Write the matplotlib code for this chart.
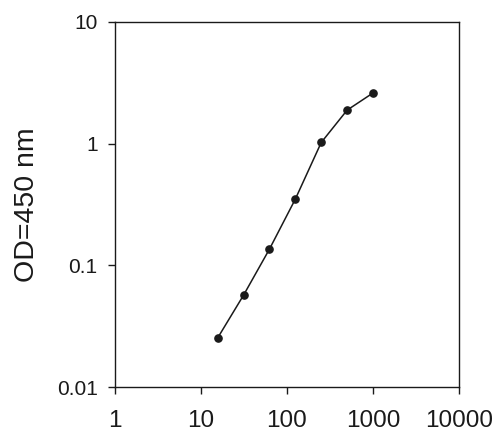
import matplotlib
matplotlib.use('Agg')
import matplotlib.pyplot as plt
from matplotlib.ticker import FixedLocator, FixedFormatter, NullLocator

# concentration (x) vs OD at 450 nm (y)
conc = [15.625, 31.25, 62.5, 125, 250, 500, 1000]
od = [0.0254, 0.057, 0.136, 0.35, 1.02, 1.88, 2.6]

x_ticks = [1, 10, 100, 1000, 10000]
x_labels = ['1', '10', '100', '1000', '10000']
y_ticks = [0.01, 0.1, 1, 10]
y_labels = ['0.01', '0.1', '1', '10']

plt.rcParams['font.family'] = ['Liberation Sans', 'DejaVu Sans']

fig = plt.figure(figsize=(5, 4.38), dpi=100)
ax = fig.add_axes([0.23, 0.1158, 0.688, 0.8347])

ax.plot(conc, od, color='#1a1a1a', lw=1.1, marker='o', ms=5.2,
        mfc='#1a1a1a', mec='#1a1a1a')

ax.set_xscale('log')
ax.set_yscale('log')
ax.set_xlim(1, 10000)
ax.set_ylim(0.01, 10)

ax.xaxis.set_major_locator(FixedLocator(x_ticks))
ax.xaxis.set_major_formatter(FixedFormatter(x_labels))
ax.xaxis.set_minor_locator(NullLocator())
ax.yaxis.set_major_locator(FixedLocator(y_ticks))
ax.yaxis.set_major_formatter(FixedFormatter(y_labels))
ax.yaxis.set_minor_locator(NullLocator())

ax.tick_params(axis='x', direction='out', length=5, width=1, labelsize=17.5,
               pad=11, colors='#1a1a1a')
ax.tick_params(axis='y', direction='out', length=5, width=1, labelsize=15,
               pad=7.5, colors='#1a1a1a')
for s in ax.spines.values():
    s.set_linewidth(1)
    s.set_color('#1a1a1a')

ax.set_ylabel('OD=450 nm', fontsize=20.5, color='#1a1a1a', labelpad=12)

fig.savefig('out.png', dpi=100)
